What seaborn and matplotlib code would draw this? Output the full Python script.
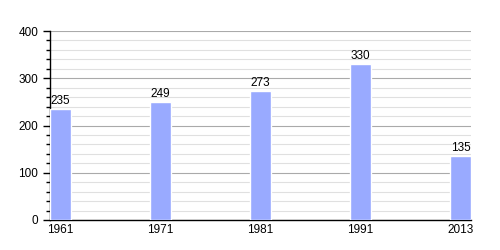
import matplotlib
matplotlib.use("Agg")
import matplotlib.pyplot as plt
import seaborn as sns
import pandas as pd
from matplotlib.ticker import MultipleLocator

years = ["1961", "1971", "1981", "1991", "2013"]
population = [235, 249, 273, 330, 135]

df = pd.DataFrame({"year": years, "pop": population})

sns.set_style("white")
plt.rcParams['font.family'] = ['Liberation Sans', 'DejaVu Sans']
plt.rcParams['text.color'] = 'black'
plt.rcParams['xtick.color'] = 'black'
plt.rcParams['ytick.color'] = 'black'
plt.rcParams['xtick.labelcolor'] = 'black'
plt.rcParams['ytick.labelcolor'] = 'black'

fig = plt.figure(figsize=(5, 2.5), dpi=100)
ax = fig.add_axes([0.1, 0.12, 0.842, 0.756])

w = 0.21
sns.barplot(data=df, x="year", y="pop", order=years, color="#99aaff",
            saturation=1, width=w, ax=ax, zorder=3)

ax.set_xlim(-w / 2, len(years) - 1 + w / 2)
ax.set_ylim(0, 400)
ax.yaxis.set_major_locator(MultipleLocator(100))
ax.yaxis.set_minor_locator(MultipleLocator(20))
ax.grid(which="major", axis="y", color="#aaaaaa", linewidth=0.8, zorder=0)
ax.grid(which="minor", axis="y", color="#e0e0e0", linewidth=0.8, zorder=0)
ax.set_axisbelow(True)

for s in ["top", "right"]:
    ax.spines[s].set_visible(False)
for s in ["left", "bottom"]:
    ax.spines[s].set_color("black")
    ax.spines[s].set_linewidth(1)

ax.tick_params(axis="y", which="major", length=5, width=1, color="black",
               labelsize=8.5, left=True, direction="out", labelcolor="black")
ax.tick_params(axis="y", which="minor", length=3, width=1, color="black", left=True)
ax.tick_params(axis="x", length=0, labelsize=8.5, pad=3, labelcolor="black")

ax.set_xlabel("")
ax.set_ylabel("")

for i, v in enumerate(population):
    ax.text(i, v + 4, str(v), ha="center", va="bottom", fontsize=8.5, color="black")

fig.savefig("out.png", dpi=100)
